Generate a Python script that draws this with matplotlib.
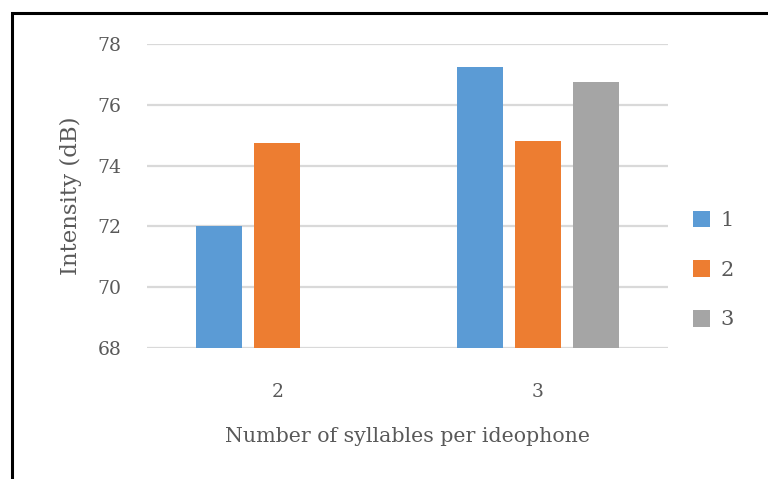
import matplotlib
matplotlib.use('Agg')
import matplotlib.pyplot as plt
import numpy as np
from matplotlib.patches import Rectangle

# Data
categories = ['2', '3']
series_names = ['1', '2', '3']
vals_1 = [72.0, 77.25]
vals_2 = [74.75, 74.82]
vals_3 = [np.nan, 76.75]
colors = ['#5b9bd5', '#ed7d31', '#a5a5a5']

plt.rcParams['font.family'] = ['DejaVu Serif']
txt = '#595959'

fig = plt.figure(figsize=(7.68, 4.79), dpi=100)
ax = fig.add_axes([147/768, 1-348/479, 521/768, 304/479])

x = np.arange(len(categories))
w = 0.177
step = 0.223
for i, (vals, name) in enumerate(zip([vals_1, vals_2, vals_3], series_names)):
    ax.bar(x + (i-1)*step, vals, width=w, color=colors[i], label=name, zorder=3)

ax.set_xlim(-0.5, 1.5)
ax.set_ylim(68, 78)
ax.set_yticks(np.arange(68, 79, 2))
ax.set_xticks(x)
ax.set_xticklabels(categories)
ax.grid(axis='y', color='#d9d9d9', linewidth=1.6, zorder=0)
for s in ax.spines.values():
    s.set_visible(False)
ax.tick_params(length=0, labelsize=13.5, colors=txt, pad=18.5)
ax.tick_params(axis='x', pad=25)
ax.set_ylabel('Intensity (dB)', fontsize=16.5, color=txt, labelpad=11)
ax.set_xlabel('Number of syllables per ideophone', fontsize=14.8, color=txt, labelpad=19)

ax.legend(loc='center left', bbox_to_anchor=(674/768, 1-270/479), bbox_transform=fig.transFigure,
          frameon=False, fontsize=15, handlelength=0.85, handleheight=0.85,
          labelspacing=1.45, handletextpad=0.5, labelcolor=txt)

# outer frame
fig.patches.append(Rectangle((12/768, -0.1), 1.2, 1.1 - 13/479, transform=fig.transFigure,
                             fill=False, edgecolor='black', linewidth=2.2))

fig.savefig('out.png', dpi=100)
